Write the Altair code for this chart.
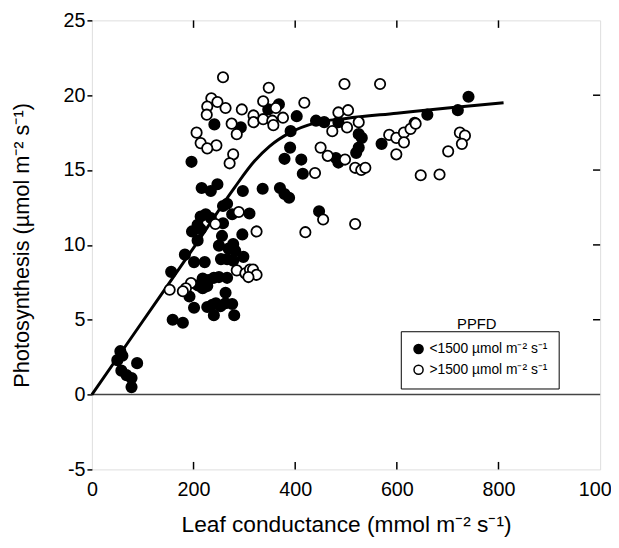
import altair as alt
import pandas as pd

# ---- data ----
filled_x = [50, 56, 60, 58, 68, 78, 78, 89,
            159, 179, 240, 280,
            201, 227, 237, 244, 253, 263, 276,
            192, 263,
            208, 218, 227, 218, 229, 240, 250, 266,
            156, 201, 222, 254, 266, 278, 183, 298,
            208, 250, 278, 269, 282, 256, 296,
            197, 208, 214, 214, 224, 234, 258, 258, 266, 276, 310, 447,
            216, 234, 247, 297, 336, 370, 379, 388,
            196, 390, 379, 412, 415, 480, 485, 520, 525, 570,
            241, 293, 347, 368, 403, 441, 457, 391, 485, 525, 531, 635, 660, 720, 741]
filled_y = [2.3, 2.9, 2.6, 1.6, 1.3, 1.1, 0.5, 2.1,
            5.0, 4.8, 5.3, 5.3,
            5.8, 5.85, 6.0, 6.1, 5.9, 6.1, 6.05,
            6.55, 6.8,
            7.3, 7.1, 7.25, 7.75, 7.65, 7.8, 7.85, 7.8,
            8.2, 8.85, 8.85, 9.05, 9.05, 8.95, 9.35, 9.2,
            10.3, 9.95, 10.05, 9.75, 9.6, 10.6, 10.7,
            10.9, 11.35, 11.05, 11.9, 12.05, 11.8, 11.45, 12.6, 12.75, 12.05, 12.1, 12.25,
            13.8, 13.6, 14.05, 13.6, 13.75, 13.8, 13.4, 13.15,
            15.55, 16.5, 15.75, 15.7, 14.75, 15.8, 15.5, 16.15, 16.5, 16.75,
            18.05, 17.85, 19.05, 19.4, 18.6, 18.3, 18.2, 17.6, 18.2, 17.4, 17.15, 18.15, 18.7, 19.0, 19.9]

open_x = [258, 348, 497, 567,
          235, 247, 227, 263, 295, 337, 362, 418, 485, 504,
          226, 318, 318, 337, 355, 357, 376, 275, 525, 502,
          285, 206, 473, 585, 599, 614, 627, 637, 724, 734,
          214, 245, 227, 278, 450, 464, 498, 614, 599, 701, 728,
          271, 439, 518, 530, 538, 647, 684,
          455, 420, 324, 289, 243, 518,
          285, 302, 311, 317, 324, 308, 195, 185, 179, 153]
open_y = [21.2, 20.5, 20.75, 20.75,
          19.8, 19.55, 19.25, 19.15, 19.05, 19.6, 19.15, 19.5, 18.85, 19.0,
          18.7, 18.65, 18.2, 18.4, 18.3, 18.0, 18.5, 18.1, 18.2, 17.85,
          17.4, 17.5, 17.6, 17.35, 17.15, 17.5, 17.75, 18.1, 17.5, 17.3,
          16.8, 16.65, 16.45, 16.05, 16.5, 15.95, 15.7, 16.85, 16.05, 16.25, 16.75,
          15.45, 14.8, 15.15, 15.0, 15.15, 14.65, 14.7,
          11.7, 10.85, 10.9, 12.2, 11.4, 11.4,
          8.3, 8.1, 8.35, 8.35, 8.0, 7.85, 7.45, 7.1, 6.9, 7.0]

curve_x = [0, 100, 200, 280, 320, 350, 390, 440, 500, 600, 700, 810]
curve_y = [0, 4.9, 9.8, 13.8, 15.6, 16.6, 17.5, 18.15, 18.45, 18.8, 19.15, 19.5]

group_labels = ["<1500 µmol m⁻² s⁻¹", ">1500 µmol m⁻² s⁻¹"]
x_ticks = [0, 200, 400, 600, 800, 1000]
y_ticks = [-5, 0, 5, 10, 15, 20, 25]
inner_x_ticks = [200, 400, 600, 800]
inner_y_ticks = [5, 10, 15, 20]

FONT = "Liberation Sans"

pts = pd.DataFrame({
    "g": filled_x + open_x,
    "a": filled_y + open_y,
    "grp": [group_labels[0]] * len(filled_x) + [group_labels[1]] * len(open_x),
})
curve = pd.DataFrame({"g": curve_x, "a": curve_y})
xt = pd.DataFrame({"v": inner_x_ticks})
yt = pd.DataFrame({"v": inner_y_ticks})

xscale = alt.Scale(domain=[0, 1000], nice=False, zero=False)
yscale = alt.Scale(domain=[-5, 25], nice=False, zero=False)

xaxis = alt.Axis(values=x_ticks, title="Leaf conductance (mmol m⁻² s⁻¹)",
                 labelExpr="'' + datum.value",
                 ticks=False, tickSize=0, domain=False, grid=False,
                 labelFontSize=20, labelFont=FONT, labelColor="black", labelPadding=10,
                 labelFlush=False,
                 titleFontSize=23, titleFont=FONT, titleFontWeight="normal", titleColor="black",
                 titleX=257.5, titleY=56, titleBaseline="middle", titleAlign="center")
yaxis = alt.Axis(values=y_ticks, title="Photosynthesis (µmol m⁻² s⁻¹)",
                 labelExpr="'' + datum.value",
                 ticks=True, tickSize=5, tickWidth=1.5, tickColor="black",
                 domain=False, grid=False,
                 labelFontSize=20, labelFont=FONT, labelColor="black", labelPadding=2,
                 labelFlush=False,
                 titleFontSize=22, titleFont=FONT, titleFontWeight="normal", titleColor="black",
                 titleX=-71, titleY=227.5, titleBaseline="middle", titleAlign="center", titleAngle=270)

zero = alt.Chart(pd.DataFrame({"z": [0]})).mark_rule(color="#444", strokeWidth=1.5).encode(
    y=alt.Y("z:Q", scale=yscale, axis=yaxis))

line = alt.Chart(curve).mark_line(color="black", strokeWidth=3, interpolate="monotone").encode(
    x=alt.X("g:Q", scale=xscale, axis=xaxis),
    y=alt.Y("a:Q", scale=yscale))

points = alt.Chart(pts).mark_point(shape="circle", filled=True, size=110, stroke="black",
                                   strokeWidth=1.8, opacity=1, fillOpacity=1).encode(
    x=alt.X("g:Q", scale=xscale),
    y=alt.Y("a:Q", scale=yscale),
    fill=alt.Fill("grp:N", scale=alt.Scale(domain=group_labels, range=["black", "white"]),
                  legend=alt.Legend(title=None, orient="none", legendX=313, legendY=315,
                                    strokeColor="black", fillColor="white", padding=11,
                                    labelFont=FONT, labelFontSize=14, labelColor="black",
                                    labelLimit=0, symbolType="circle", symbolSize=85,
                                    symbolStrokeColor="black", symbolStrokeWidth=1.5,
                                    rowPadding=5, symbolOffset=0)),
    order=alt.Order("grp:N"))

# inward tick marks on bottom, top and right frame edges
bottom_ticks = alt.Chart(xt).mark_rule(color="black", strokeWidth=1.5).encode(
    x=alt.X("v:Q", scale=xscale), y=alt.datum(-5), y2=alt.datum(-4.5))
top_ticks = alt.Chart(xt).mark_rule(color="black", strokeWidth=1.5).encode(
    x=alt.X("v:Q", scale=xscale), y=alt.datum(25), y2=alt.datum(24.5))
right_ticks = alt.Chart(yt).mark_rule(color="black", strokeWidth=1.5).encode(
    y=alt.Y("v:Q", scale=yscale), x=alt.datum(1000), x2=alt.datum(986))

ppfd = alt.Chart(pd.DataFrame({"t": ["PPFD"]})).mark_text(
    font=FONT, fontSize=15, color="black", align="center", baseline="middle").encode(
    text="t:N", x=alt.value(390), y=alt.value(308))

chart = alt.layer(zero, line, points, bottom_ticks, top_ticks, right_ticks, ppfd).properties(
    width=515, height=455,
    padding={"left": 85, "top": 9, "right": 11, "bottom": 70},
    autosize=alt.AutoSizeParams(type="none"),
).configure_view(stroke="black", strokeWidth=2).configure(background="white")

chart.save("out.html", embed_options={"renderer": "svg", "actions": False})
